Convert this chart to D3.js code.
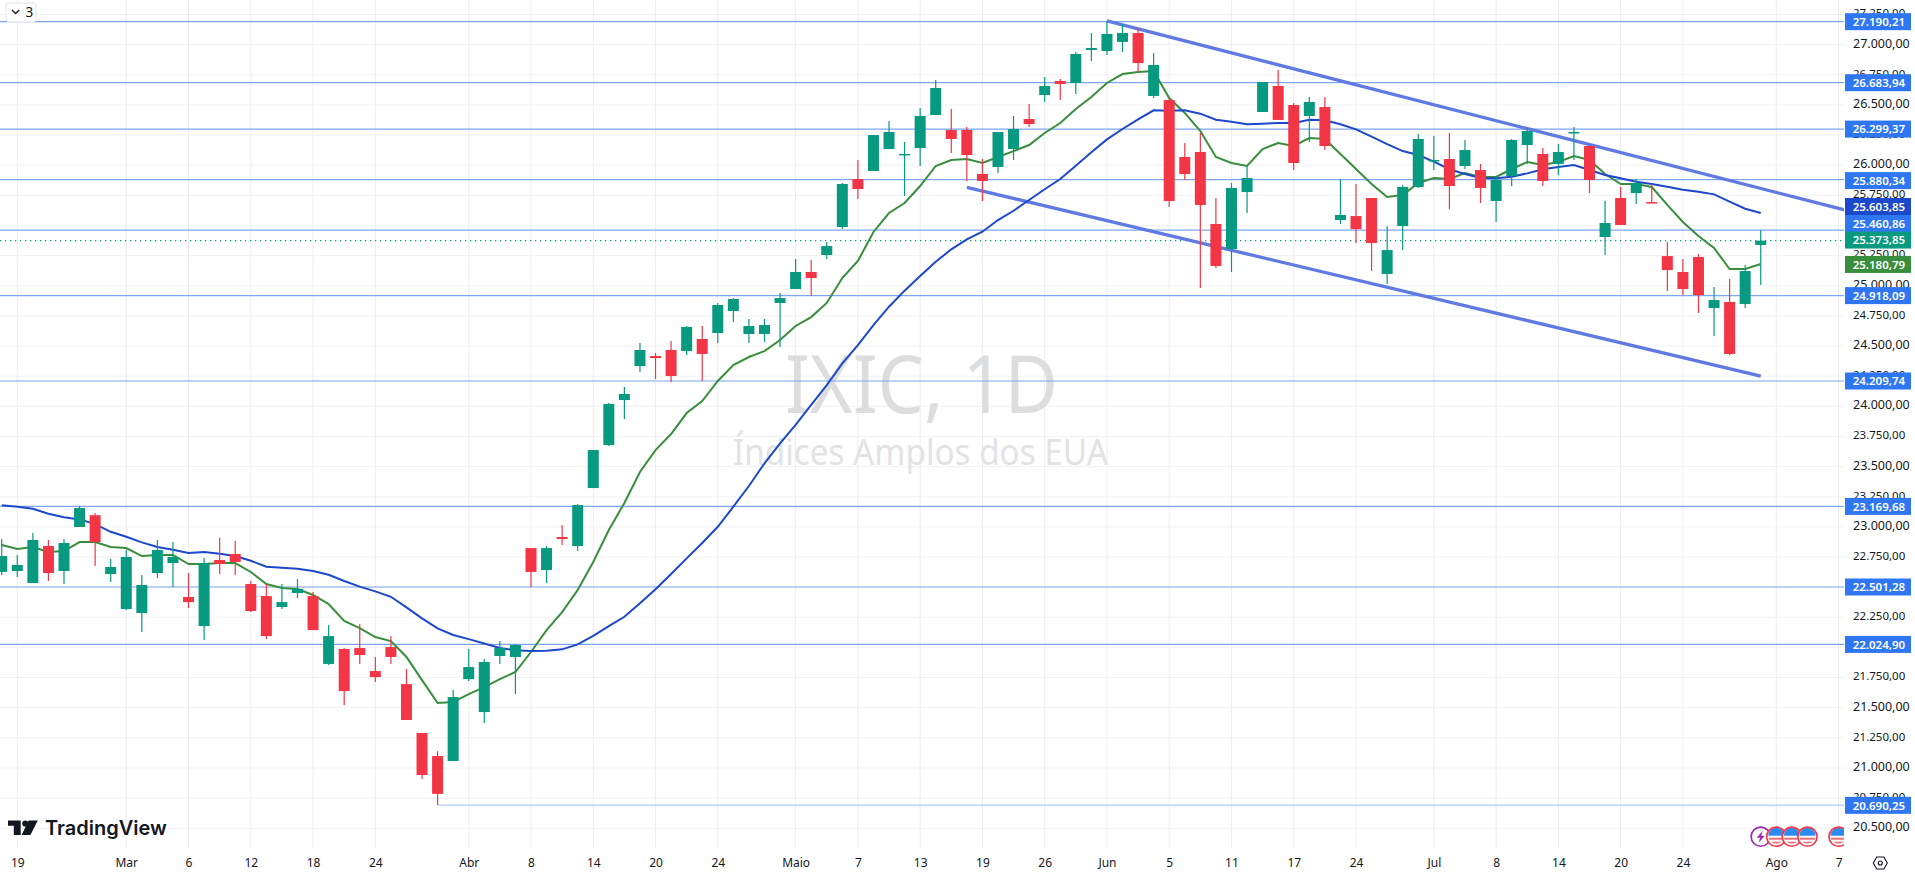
<!DOCTYPE html>
<html>
<head>
<meta charset="utf-8">
<script src="https://cdn.jsdelivr.net/npm/d3@7"></script>
<style>
  html, body { margin: 0; padding: 0; background: #fff; overflow: hidden; }
  svg { display: block; }
  text { font-family: "Noto Sans", Arial, sans-serif; }
</style>
</head>
<body>
<script>
var highs = [22899,22767,22949,22891,22899,23173,23114,22734,22808,22601,22891,22874,22617,22742,22910,22883,22551,22526,22526,22568,22460,22186,21995,22194,21921,22094,21821,21290,21140,21647,
  21987,21904,22053,22028,22824,22841,23015,23189,23637,24027,24160,24525,24442,24541,24666,24666,24857,24898,24724,24724,24940,25222,25213,25363,25852,26043,26250,26366,26192,26474,
  26706,26466,26317,26051,26275,26408,26507,26731,26715,26939,27096,27196,27171,27138,26930,26565,26184,26267,25728,25852,25993,26690,26789,26516,26565,26565,25885,25844,25728,25495,
  25835,26258,26242,26267,26209,26010,25902,26217,26308,26142,26175,26317,26159,25703,25819,25885,25844,25363,25222,25263,24989,25056,25172,25462];
var opens = [22626,22634,22534,22841,22634,22999,23097,22609,22318,22285,22617,22700,22418,22177,22725,22775,22526,22426,22335,22451,22426,21863,21987,21995,21804,22003,21696,21290,21099,21058,
  21737,21464,21929,21921,22824,22642,22916,22841,23322,23679,24052,24334,24417,24467,24458,24558,24608,24790,24600,24600,24857,24973,25114,25255,25487,25885,25952,26134,26084,26142,
  26416,26292,26292,25927,25985,26134,26383,26582,26698,26682,26955,26947,27022,27096,26574,26540,26068,26109,25512,25305,25777,26441,26657,26499,26408,26482,25545,25578,25728,25097,
  25495,25819,26034,26051,25993,25960,25703,25910,26167,26093,26010,26267,26159,25404,25728,25769,25694,25246,25114,25238,24815,24865,24848,25338];
var closes = [22758,22684,22891,22617,22866,23156,22874,22667,22750,22518,22808,22750,22376,22700,22692,22709,22302,22094,22376,22485,22144,22094,21638,21937,21754,21921,21398,20942,20785,21588,
  21837,21879,21995,22020,22626,22824,22899,23181,23637,24019,24102,24467,24400,24251,24658,24434,24840,24890,24666,24674,24898,25114,25064,25329,25844,25802,26250,26275,26093,26408,
  26640,26217,26084,25869,26275,26300,26341,26657,26673,26922,26972,27088,27096,26847,26831,25703,25927,25670,25164,25811,25893,26690,26375,26018,26524,26159,25587,25470,25354,25296,
  25819,26217,26043,25827,26126,25811,25877,26209,26283,25869,26109,26275,25877,25520,25504,25852,25686,25130,24973,24923,24881,24434,25122,25373.85];
var lows = [22601,22584,22534,22551,22526,22999,22676,22543,22310,22128,22576,22501,22327,22061,22609,22601,22293,22069,22318,22410,22144,21854,21522,21863,21713,21863,21398,20909,20693,21058,
  21721,21373,21863,21613,22501,22534,22849,22799,23322,23670,23894,24284,24226,24201,24425,24210,24525,24699,24525,24533,24492,24973,24915,25222,25470,25719,25952,26134,25744,25993,
  26416,26101,25869,25703,25935,26043,26317,26524,26540,26590,26864,26914,26939,26773,26557,25653,25877,24981,25147,25114,25603,26441,26375,25960,26192,26126,25512,25354,25122,25014,
  25296,25811,25960,25636,25968,25686,25529,25827,26010,25827,25918,26043,25769,25255,25504,25678,25686,24956,24923,24774,24583,24425,24815,25006];
var maFast = [22849,22816,22833,22791,22799,22874,22874,22833,22824,22758,22767,22767,22692,22692,22700,22700,22626,22526,22493,22485,22435,22360,22219,22161,22086,22053,21921,21729,21539,21547,
  21613,21671,21737,21796,21962,22144,22293,22476,22709,22974,23198,23455,23637,23770,23944,24044,24210,24342,24409,24458,24550,24666,24740,24857,25064,25205,25446,25603,25686,25827,
  25993,26043,26051,26018,26068,26117,26167,26267,26350,26466,26565,26682,26756,26773,26781,26557,26433,26283,26068,26018,25993,26134,26184,26159,26225,26217,26093,25968,25844,25736,
  25752,25852,25893,25885,25935,25902,25902,25968,26026,26001,26026,26076,26043,25927,25844,25844,25819,25670,25529,25412,25313,25139,25139,25180.79];
var maSlow = [23179,23167,23150,23109,23079,23062,23023,22959,22918,22871,22833,22810,22783,22791,22777,22758,22719,22669,22661,22653,22634,22603,22551,22504,22465,22420,22332,22241,22158,22103,
  22069,22032,21995,21976,21970,21972,21984,22025,22096,22177,22254,22366,22482,22609,22739,22866,23001,23167,23339,23527,23693,23845,24011,24176,24356,24508,24674,24826,24959,25081,
  25199,25302,25385,25448,25545,25622,25711,25800,25885,25996,26107,26214,26300,26380,26455,26452,26455,26427,26377,26360,26339,26344,26350,26350,26377,26372,26339,26297,26236,26175,
  26117,26084,26029,25966,25927,25893,25891,25904,25932,25966,25985,26001,25960,25918,25891,25863,25844,25821,25796,25780,25758,25697,25639,25603.85];

var levels = [27190.21,26683.94,26299.37,25880.34,25460.86,24918.09,24209.74,23169.68,22501.28,22024.90,20690.25];
var levelStart = [-2,-2,-2,-2,-2,-2,-2,-2,-2,-2,28];
var levelShift = [0,0,0,1,-6.7,0,0,0,0,0,0];

var trendTop = [[71,27196],[118.4,25628]];
var trendBottom = [[62,25816],[113,24251]];

var priceTicks = d3.range(20500, 27251, 250);
var dateTicks = [1,8,12,16,20,24,30,34,38,42,46,51,55,59,63,67,71,75,79,83,87,92,96,100,104,108,114,118];
var dateLabels = ["19","Mar","6","12","18","24","Abr","8","14","20","24","Maio","7","13","19","26","Jun","5","11","17","24","Jul","8","14","20","24","Ago","7"];
var eventBars = [114,115,116,118];

var width = 1915, height = 876, plotRight = 1844, plotBottom = 848;
var green = "#089981", red = "#f23645", maGreen = "#388e3c", maBlue = "#1c48cc", levelBlue = "#2f77f2";

var x = d3.scaleLinear().domain([0, 114]).range([1.73, 1776.3]);
var y = d3.scaleLinear().domain([27000, 21000]).range([44.6, 768]);

var ptBR = d3.formatLocale({decimal: ",", thousands: ".", grouping: [3], currency: ["", ""]});
var fmt = ptBR.format(",.2f");

var svg = d3.select("body").append("svg")
  .attr("width", width)
  .attr("height", height);

svg.append("clipPath").attr("id", "plot")
  .append("rect").attr("width", plotRight).attr("height", plotBottom);

var plot = svg.append("g").attr("clip-path", "url(#plot)");

// grid
plot.selectAll(".hgrid").data(priceTicks).enter().append("line")
  .attr("x1", 0).attr("x2", plotRight)
  .attr("y1", function(d){ return y(d); }).attr("y2", function(d){ return y(d); })
  .attr("stroke", "#f2f2f3").attr("stroke-width", 1);
plot.selectAll(".vgrid").data(dateTicks).enter().append("line")
  .attr("x1", function(d){ return x(d); }).attr("x2", function(d){ return x(d); })
  .attr("y1", 0).attr("y2", plotBottom)
  .attr("stroke", "#ededf0").attr("stroke-width", 1);

// watermark
plot.append("text").attr("x", 785).attr("y", 413)
  .attr("font-size", 80).attr("textLength", 273).attr("lengthAdjust", "spacingAndGlyphs")
  .attr("fill", "#dcddde").text("IXIC, 1D");
plot.append("text").attr("x", 733).attr("y", 465)
  .attr("font-size", 37).attr("textLength", 375).attr("lengthAdjust", "spacingAndGlyphs")
  .attr("fill", "#e2e3e4").text("Índices Amplos dos EUA");

// horizontal levels
plot.selectAll(".level").data(levels).enter().append("line")
  .attr("x1", function(d, i){ return x(levelStart[i]); }).attr("x2", plotRight)
  .attr("y1", function(d){ return y(d); }).attr("y2", function(d){ return y(d); })
  .attr("stroke", function(d, i){ return levelStart[i] > 0 ? "#c9d9f7" : "#7ea6f2"; })
  .attr("stroke-width", function(d, i){ return levelStart[i] > 0 ? 2 : 1.2; });

// last price dots
plot.append("line")
  .attr("x1", 0).attr("x2", plotRight)
  .attr("y1", y(closes[closes.length - 1])).attr("y2", y(closes[closes.length - 1]))
  .attr("stroke", green).attr("stroke-width", 1.2).attr("stroke-dasharray", "1.3 3.7");

// channel
var line = d3.line().x(function(d){ return x(d[0]); }).y(function(d){ return y(d[1]); });
[trendTop, trendBottom].forEach(function(t){
  plot.append("path").attr("d", line(t)).attr("fill", "none")
    .attr("stroke", "#5f7ae3").attr("stroke-width", 3.3);
});

// moving averages
var maLine = d3.line().x(function(d, i){ return x(i); }).y(function(d){ return y(d); });
plot.append("path").attr("d", maLine(maFast)).attr("fill", "none").attr("stroke", maGreen).attr("stroke-width", 2);
plot.append("path").attr("d", maLine(maSlow)).attr("fill", "none").attr("stroke", maBlue).attr("stroke-width", 2);

// candles
var candles = plot.selectAll(".candle").data(d3.range(closes.length)).enter().append("g");
candles.append("rect")
  .attr("x", function(i){ return x(i) - 0.6; }).attr("width", 1.2)
  .attr("y", function(i){ return y(highs[i]); })
  .attr("height", function(i){ return y(lows[i]) - y(highs[i]); })
  .attr("fill", function(i){ return closes[i] >= opens[i] ? green : red; });
candles.append("rect")
  .attr("x", function(i){ return x(i) - 5.5; }).attr("width", 11)
  .attr("y", function(i){ return y(Math.max(opens[i], closes[i])); })
  .attr("height", function(i){ return Math.max(1.5, Math.abs(y(opens[i]) - y(closes[i]))); })
  .attr("fill", function(i){ return closes[i] >= opens[i] ? green : red; });

// event icons
var iconY = 836.7;
var lightning = plot.append("g").attr("transform", "translate(" + x(113) + "," + iconY + ")");
lightning.append("circle").attr("r", 9.6).attr("fill", "#fff").attr("stroke", "#9c27b0").attr("stroke-width", 1.6);
lightning.append("path").attr("d", "M2,-6 L-4,1 L-0.5,1 L-2,6 L4,-1 L0.5,-1 Z").attr("fill", "#9c27b0");
eventBars.forEach(function(b){
  var g = plot.append("g").attr("transform", "translate(" + x(b) + "," + iconY + ")");
  g.append("circle").attr("r", 9.6).attr("fill", "#fff");
  g.append("path").attr("d", "M-8,-1 A8,8 0 0 1 8,-1 Z").attr("fill", "#2a8cf0");
  g.append("rect").attr("x", -7.6).attr("y", 1).attr("width", 15.2).attr("height", 2).attr("fill", "#f26d78");
  g.append("path").attr("d", "M-5.2,5 L5.2,5 A8,8 0 0 1 -5.2,5 Z").attr("fill", "#f26d78");
  g.append("circle").attr("r", 9.6).attr("fill", "none").attr("stroke", red).attr("stroke-width", 1.6);
});

// price axis
var priceAxis = d3.axisRight(y).tickValues(priceTicks).tickFormat(fmt).tickSize(0).tickPadding(0);
var gPrice = svg.append("g").attr("transform", "translate(1853,0)").call(priceAxis);
gPrice.select(".domain").remove();
gPrice.selectAll("text")
  .attr("dy", "0.2em")
  .style("font-family", '"Noto Sans", Arial, sans-serif')
  .style("font-size", function(d){ return d % 500 == 0 ? "12.5px" : "11.5px"; })
  .attr("fill", "#131722");

// time axis
var timeAxis = d3.axisBottom(x).tickValues(dateTicks)
  .tickFormat(function(d, i){ return dateLabels[i]; }).tickSize(0).tickPadding(0);
var gTime = svg.append("g").attr("transform", "translate(0,857)").call(timeAxis);
gTime.select(".domain").remove();
gTime.selectAll("text")
  .attr("y", 0).attr("dy", "0.8em")
  .style("font-family", '"Noto Sans", Arial, sans-serif')
  .style("font-size", "12px")
  .attr("fill", "#131722");

// price labels
function priceLabel(value, bg, shift){
  var cy = y(value) + shift;
  svg.append("rect").attr("x", 1845).attr("y", cy - 8.5).attr("width", 66).attr("height", 17).attr("fill", bg);
  svg.append("text").attr("x", 1852.7).attr("y", cy + 4.2)
    .attr("font-size", 11.5).attr("font-weight", 600).attr("fill", "#fff").text(fmt(value));
}
levels.forEach(function(v, i){ priceLabel(v, levelBlue, levelShift[i]); });
priceLabel(maSlow[maSlow.length - 1], maBlue, -6.4);
priceLabel(closes[closes.length - 1], green, -0.6);
priceLabel(maFast[maFast.length - 1], maGreen, 0.5);

// settings hexagon
var hex = svg.append("g").attr("transform", "translate(1880.3,863)").attr("fill", "none").attr("stroke", "#131722").attr("stroke-width", 1.1);
hex.append("path").attr("d", "M-7,0 L-3.6,-6 L3.6,-6 L7,0 L3.6,6 L-3.6,6 Z");
hex.append("circle").attr("r", 2);

// legend toggle
svg.append("rect").attr("x", 6).attr("y", 3).attr("width", 30).attr("height", 19).attr("rx", 3)
  .attr("fill", "#fff").attr("stroke", "#e0e3eb");
svg.append("path").attr("d", "M12,10 L15.6,13.5 L19.2,10").attr("fill", "none").attr("stroke", "#131722").attr("stroke-width", 1.3);
svg.append("text").attr("x", 25.5).attr("y", 17).attr("font-size", 13.5).attr("fill", "#131722").text("3");

// logo
var logo = svg.append("g").attr("fill", "#131722");
logo.append("path").attr("d", "M8,820.5 H20.7 V835 H13.8 V825.8 H8 Z");
logo.append("circle").attr("cx", 25.3).attr("cy", 823.5).attr("r", 3.1);
logo.append("path").attr("d", "M28.6,820.5 H37.8 L30.4,835 H21.6 Z");
logo.append("text").attr("x", 45).attr("y", 835).attr("font-size", 20).attr("font-weight", 600)
  .style("font-family", "Inter, sans-serif").text("TradingView");
</script>
</body>
</html>
